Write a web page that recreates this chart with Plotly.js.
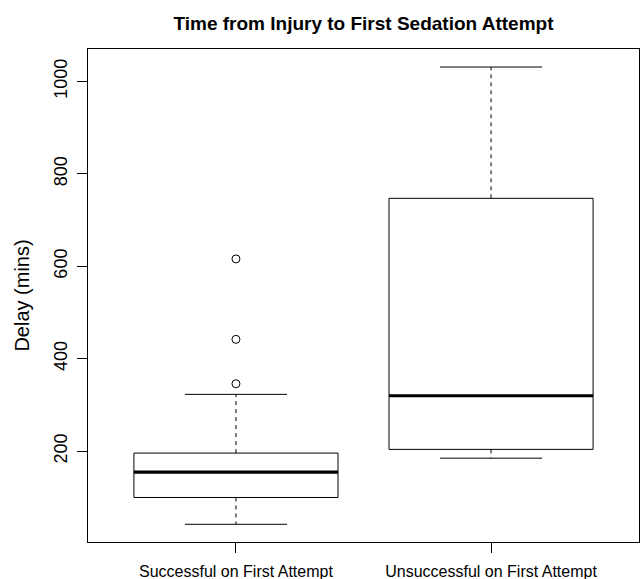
<!DOCTYPE html>
<html>
<head>
<meta charset="utf-8">
<script src="https://cdn.plot.ly/plotly-3.0.1.min.js"></script>
<style>html,body{margin:0;padding:0;background:#fff;}#chart{width:641px;height:579px;}</style>
</head>
<body>
<div id="chart"></div>
<script>
// ---- data ----
var categories = ["Successful on First Attempt", "Unsuccessful on First Attempt"];
var lowerWhisker = [42, 185];
var q1 = [100, 204];
var median = [155, 320];
var q3 = [196, 747];
var upperWhisker = [323, 1031];
var outliersSuccessful = [346, 442, 616];
var outliersUnsuccessful = [];
var yTickValues = [200, 400, 600, 800, 1000];

// ---- build traces ----
var halfBox = 0.4, halfCap = 0.2;
var boxX = [], boxY = [], medX = [], medY = [], whX = [], whY = [], capX = [], capY = [], outX = [], outY = [];
var outliers = [outliersSuccessful, outliersUnsuccessful];
for (var i = 0; i < categories.length; i++) {
  var p = i + 1;
  boxX.push(p - halfBox, p + halfBox, p + halfBox, p - halfBox, p - halfBox, null);
  boxY.push(q1[i], q1[i], q3[i], q3[i], q1[i], null);
  medX.push(p - halfBox, p + halfBox, null);
  medY.push(median[i], median[i], null);
  whX.push(p, p, null, p, p, null);
  whY.push(q3[i], upperWhisker[i], null, q1[i], lowerWhisker[i], null);
  capX.push(p - halfCap, p + halfCap, null, p - halfCap, p + halfCap, null);
  capY.push(upperWhisker[i], upperWhisker[i], null, lowerWhisker[i], lowerWhisker[i], null);
  outliers[i].forEach(function (v) { outX.push(p); outY.push(v); });
}

var traces = [
  {x: whX, y: whY, mode: 'lines', line: {color: '#000', width: 1, dash: '4px,4px'}, hoverinfo: 'skip'},
  {x: capX, y: capY, mode: 'lines', line: {color: '#000', width: 1}, hoverinfo: 'skip'},
  {x: boxX, y: boxY, mode: 'lines', line: {color: '#000', width: 1}, fill: 'none', hoverinfo: 'skip'},
  {x: medX, y: medY, mode: 'lines', line: {color: '#000', width: 3.2}, hoverinfo: 'skip'},
  {x: outX, y: outY, mode: 'markers', marker: {symbol: 'circle-open', size: 8, color: '#000', line: {width: 1, color: '#000'}}}
];

var fontFam = '"Liberation Sans", Arial, Helvetica, sans-serif';
var layout = {
  width: 641, height: 579,
  margin: {l: 88, r: 2, t: 49, b: 37},
  paper_bgcolor: '#fff', plot_bgcolor: '#fff',
  showlegend: false,
  font: {family: fontFam, color: '#000'},
  title: {text: '<b>Time from Injury to First Sedation Attempt</b>', font: {family: fontFam, size: 19, color: '#000'},
          x: 0.5, xref: 'paper', xanchor: 'center', y: 1 - 23 / 579, yanchor: 'middle'},
  xaxis: {
    range: [0.42, 2.58], tickvals: [1, 2], ticktext: categories,
    showgrid: false, zeroline: false, showline: true, mirror: true, linecolor: '#000', linewidth: 1,
    ticks: 'outside', ticklen: 10, tickcolor: '#000', tickwidth: 1,
    tickfont: {size: 16, family: fontFam, color: '#000'}, ticklabelstandoff: 5
  },
  yaxis: {
    range: [3.7, 1070], tickvals: yTickValues, ticktext: yTickValues.map(String),
    showgrid: false, zeroline: false, showline: true, mirror: true, linecolor: '#000', linewidth: 1,
    ticks: 'outside', ticklen: 10, tickcolor: '#000', tickwidth: 1, tickangle: -90,
    tickfont: {size: 18, family: fontFam, color: '#000'}, ticklabelstandoff: 3,
    title: {text: 'Delay (mins)', font: {size: 20, family: fontFam, color: '#000'}, standoff: 15}
  }
};

Plotly.newPlot('chart', traces, layout, {displayModeBar: false, staticPlot: true});
</script>
</body>
</html>
